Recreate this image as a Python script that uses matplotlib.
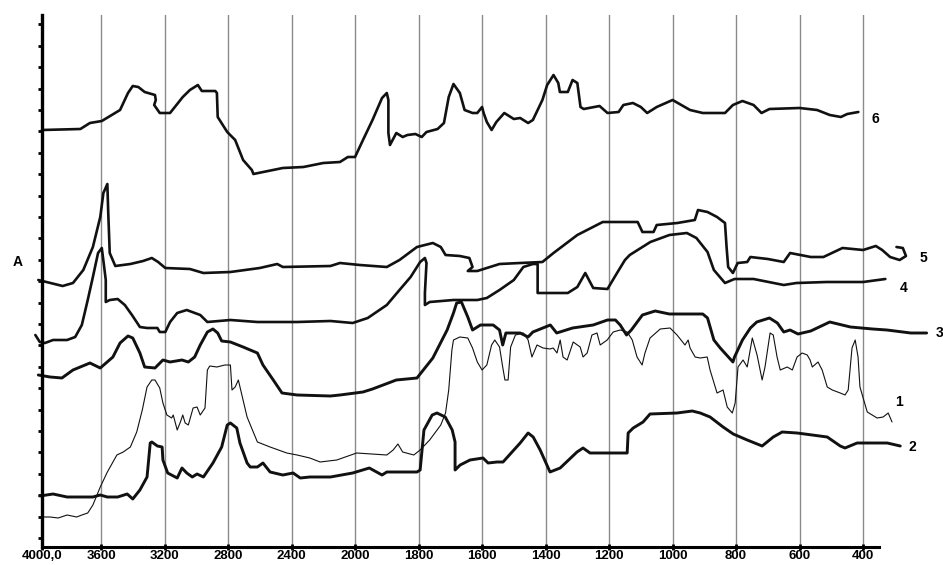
import numpy as np
import matplotlib.pyplot as plt

# IR spectra, wavenumber (cm-1) vs absorbance (arb. units, stacked)
wn6 = [4000, 3740, 3675, 3595, 3480, 3430, 3400, 3365, 3325, 3260, 3255, 3265, 3230, 3165, 3135, 3085,
       3040, 2990, 2965, 2880, 2870, 2865, 2805, 2755, 2705, 2650, 2640, 2455, 2325, 2200, 2095, 2045,
       2000, 1975, 1945, 1915, 1900, 1895, 1895, 1890, 1870, 1850, 1835, 1810, 1790, 1775, 1740, 1720,
       1705, 1690, 1670, 1655, 1630, 1615, 1600, 1595, 1585, 1570, 1555, 1530, 1500, 1480, 1455, 1440,
       1410, 1395, 1375, 1360, 1355, 1330, 1315, 1300, 1290, 1280, 1230, 1205, 1170, 1155, 1125, 1100,
       1080, 1050, 1000, 945, 905, 835, 810, 780, 745, 720, 695, 600, 545, 505, 470, 450, 415]
a6 = [4.08, 4.09, 4.15, 4.17, 4.28, 4.45, 4.52, 4.51, 4.46, 4.43, 4.38, 4.33, 4.25, 4.25, 4.31, 4.41,
      4.48, 4.53, 4.47, 4.47, 4.45, 4.21, 4.06, 3.98, 3.78, 3.68, 3.64, 3.70, 3.71, 3.75, 3.76, 3.81,
      3.81, 3.98, 4.18, 4.40, 4.45, 4.38, 4.05, 3.93, 4.05, 4.01, 4.03, 4.04, 4.01, 4.06, 4.09, 4.15,
      4.41, 4.54, 4.45, 4.28, 4.25, 4.25, 4.31, 4.25, 4.16, 4.08, 4.16, 4.25, 4.19, 4.20, 4.15, 4.18,
      4.38, 4.53, 4.63, 4.55, 4.46, 4.46, 4.58, 4.55, 4.31, 4.29, 4.32, 4.25, 4.26, 4.33, 4.35, 4.31,
      4.25, 4.31, 4.38, 4.28, 4.25, 4.25, 4.33, 4.37, 4.33, 4.25, 4.29, 4.30, 4.28, 4.23, 4.21, 4.24, 4.26]

wn5 = [4025, 3860, 3790, 3720, 3655, 3605, 3585, 3560, 3555, 3545, 3510, 3415, 3335, 3280, 3240, 3195,
       3040, 2955, 2785, 2600, 2490, 2455, 2155, 2095, 1985, 1900, 1860, 1805, 1755, 1730, 1715, 1670,
       1640, 1630, 1645, 1615, 1545, 1480, 1410, 1375, 1300, 1220, 1110, 1095, 1060, 1050, 985, 930,
       920, 890, 860, 835, 830, 825, 810, 795, 765, 755, 700, 650, 630, 565, 525, 465, 400, 360,
       340, 315, 285, 265, 275, 295]
a5 = [2.58, 2.52, 2.55, 2.68, 2.91, 3.21, 3.45, 3.54, 3.28, 2.85, 2.72, 2.74, 2.77, 2.80, 2.76, 2.70,
      2.69, 2.65, 2.66, 2.70, 2.74, 2.71, 2.72, 2.75, 2.73, 2.71, 2.78, 2.91, 2.95, 2.91, 2.83, 2.82,
      2.80, 2.71, 2.67, 2.67, 2.74, 2.75, 2.76, 2.85, 3.03, 3.16, 3.16, 3.06, 3.06, 3.13, 3.15, 3.18,
      3.28, 3.26, 3.21, 3.15, 2.91, 2.71, 2.65, 2.75, 2.76, 2.81, 2.79, 2.76, 2.85, 2.81, 2.81, 2.90,
      2.88, 2.92, 2.88, 2.81, 2.78, 2.82, 2.90, 2.91]

wn4 = [4045, 4015, 3980, 3925, 3830, 3775, 3730, 3690, 3655, 3620, 3595, 3580, 3570, 3570, 3545, 3495,
       3450, 3405, 3355, 3310, 3245, 3230, 3195, 3165, 3120, 3060, 2975, 2930, 2785, 2615, 2365, 2155,
       2015, 1960, 1900, 1860, 1825, 1795, 1780, 1775, 1780, 1780, 1765, 1690, 1615, 1585, 1545, 1500,
       1470, 1440, 1425, 1425, 1330, 1300, 1275, 1250, 1205, 1175, 1150, 1135, 1070, 1010, 955, 925,
       890, 870, 835, 805, 745, 650, 610, 515, 400, 330]
a4 = [2.03, 1.96, 1.95, 1.98, 1.98, 2.01, 2.13, 2.38, 2.61, 2.85, 2.90, 2.71, 2.58, 2.36, 2.38, 2.39,
      2.33, 2.23, 2.11, 2.10, 2.10, 2.06, 2.06, 2.16, 2.25, 2.28, 2.23, 2.16, 2.18, 2.16, 2.16, 2.17,
      2.15, 2.20, 2.33, 2.48, 2.61, 2.76, 2.80, 2.75, 2.45, 2.33, 2.36, 2.38, 2.38, 2.40, 2.48, 2.58,
      2.71, 2.74, 2.74, 2.45, 2.45, 2.51, 2.65, 2.50, 2.49, 2.65, 2.78, 2.83, 2.96, 3.03, 3.05, 3.00,
      2.86, 2.68, 2.55, 2.59, 2.59, 2.53, 2.55, 2.56, 2.56, 2.59]

wn3 = [4025, 3945, 3865, 3790, 3675, 3605, 3525, 3480, 3430, 3400, 3355, 3325, 3260, 3210, 3165, 3090,
       3050, 3010, 2975, 2930, 2895, 2865, 2840, 2785, 2705, 2615, 2580, 2515, 2460, 2365, 2155, 2095,
       1975, 1945, 1870, 1805, 1755, 1710, 1690, 1680, 1665, 1645, 1630, 1605, 1565, 1545, 1535, 1525,
       1480, 1455, 1440, 1385, 1365, 1315, 1250, 1205, 1180, 1165, 1145, 1130, 1095, 1055, 1010, 905,
       890, 870, 850, 810, 805, 780, 755, 735, 695, 670, 650, 630, 605, 565, 505, 440, 370, 325, 250, 200]
a3 = [1.63, 1.61, 1.60, 1.68, 1.75, 1.70, 1.81, 1.95, 2.02, 2.00, 1.85, 1.71, 1.70, 1.78, 1.76, 1.78,
      1.76, 1.81, 1.93, 2.06, 2.09, 2.05, 1.97, 1.96, 1.91, 1.85, 1.73, 1.58, 1.45, 1.43, 1.42, 1.43,
      1.46, 1.49, 1.58, 1.60, 1.80, 2.08, 2.25, 2.35, 2.36, 2.21, 2.08, 2.13, 2.13, 2.08, 1.93, 2.05,
      2.05, 2.01, 2.06, 2.13, 2.05, 2.10, 2.13, 2.18, 2.18, 2.13, 2.03, 2.08, 2.23, 2.27, 2.24, 2.24,
      2.20, 1.98, 1.90, 1.76, 1.81, 1.98, 2.10, 2.16, 2.20, 2.15, 2.06, 2.08, 2.04, 2.07, 2.16, 2.11,
      2.09, 2.08, 2.05, 2.05]

wn1 = [4015, 3945, 3890, 3830, 3765, 3730, 3690, 3655, 3605, 3560, 3500, 3460, 3415, 3375, 3340, 3310,
       3280, 3260, 3230, 3210, 3185, 3155, 3145, 3120, 3100, 3085, 3070, 3050, 3020, 2995, 2975, 2945,
       2930, 2915, 2870, 2820, 2785, 2775, 2755, 2735, 2720, 2680, 2615, 2535, 2430, 2365, 2285, 2220,
       2115, 1995, 1900, 1880, 1865, 1850, 1815, 1795, 1765, 1730, 1715, 1705, 1695, 1690, 1670, 1645,
       1630, 1615, 1600, 1585, 1570, 1560, 1545, 1535, 1528, 1518, 1510, 1495, 1470, 1455, 1443, 1427,
       1408, 1386, 1376, 1364, 1354, 1345, 1332, 1313, 1291, 1282, 1269, 1254, 1238, 1228, 1206, 1187,
       1165, 1143, 1127, 1112, 1096, 1087, 1071, 1039, 1008, 986, 961, 951, 945, 929, 913, 891,
       882, 860, 841, 828, 812, 803, 794, 778, 765, 749, 734, 718, 709, 693, 683, 671,
       661, 639, 623, 608, 592, 576, 567, 560, 542, 529, 513, 497, 472, 457, 447, 435,
       425, 416, 410, 387, 356, 337, 321, 309]
a1 = [0.21, 0.21, 0.20, 0.23, 0.21, 0.23, 0.25, 0.33, 0.51, 0.66, 0.83, 0.86, 0.91, 1.06, 1.28, 1.51,
      1.58, 1.58, 1.50, 1.35, 1.23, 1.20, 1.23, 1.08, 1.16, 1.23, 1.15, 1.13, 1.30, 1.31, 1.23, 1.30,
      1.68, 1.72, 1.71, 1.73, 1.73, 1.48, 1.51, 1.58, 1.48, 1.21, 0.96, 0.91, 0.85, 0.83, 0.80, 0.76,
      0.78, 0.85, 0.83, 0.88, 0.94, 0.86, 0.83, 0.88, 0.98, 1.13, 1.25, 1.48, 1.88, 1.98, 2.01, 2.00,
      1.90, 1.76, 1.68, 1.73, 1.93, 1.98, 1.91, 1.71, 1.58, 1.58, 1.91, 2.03, 2.05, 1.98, 1.81, 1.93,
      1.90, 1.89, 1.90, 1.85, 1.98, 1.81, 1.78, 1.96, 1.91, 1.81, 1.85, 2.03, 2.05, 1.93, 1.98, 2.06,
      2.08, 2.06, 1.98, 1.81, 1.73, 1.85, 2.00, 2.09, 2.10, 2.03, 1.93, 1.98, 1.90, 1.81, 1.80, 1.81,
      1.68, 1.45, 1.48, 1.31, 1.25, 1.35, 1.71, 1.78, 1.71, 2.00, 1.83, 1.58, 1.71, 2.05, 2.03, 1.81,
      1.68, 1.71, 1.68, 1.81, 1.85, 1.83, 1.78, 1.71, 1.76, 1.68, 1.51, 1.48, 1.45, 1.43, 1.48, 1.90,
      1.98, 1.81, 1.51, 1.26, 1.20, 1.21, 1.25, 1.16]

wn2 = [4015, 3925, 3830, 3655, 3605, 3560, 3495, 3435, 3400, 3355, 3310, 3290, 3280, 3245, 3215, 3210,
       3180, 3120, 3090, 3060, 3025, 2995, 2955, 2895, 2840, 2805, 2785, 2745, 2725, 2680, 2660, 2615,
       2580, 2535, 2455, 2390, 2345, 2285, 2155, 2015, 1955, 1915, 1900, 1805, 1795, 1783, 1757, 1742,
       1716, 1694, 1685, 1685, 1669, 1638, 1597, 1581, 1553, 1534, 1480, 1455, 1439, 1417, 1386, 1354,
       1301, 1282, 1260, 1143, 1140, 1124, 1093, 1071, 986, 938, 913, 882, 841, 809, 765, 718,
       683, 655, 608, 513, 472, 457, 419, 324, 283]
a2 = [0.42, 0.44, 0.41, 0.41, 0.43, 0.41, 0.41, 0.44, 0.39, 0.48, 0.61, 0.95, 0.96, 0.92, 0.91, 0.78,
      0.65, 0.60, 0.70, 0.65, 0.61, 0.64, 0.61, 0.75, 0.91, 1.13, 1.15, 1.10, 0.95, 0.75, 0.71, 0.71,
      0.75, 0.66, 0.63, 0.65, 0.60, 0.61, 0.61, 0.65, 0.70, 0.63, 0.66, 0.66, 0.68, 1.08, 1.23, 1.25,
      1.21, 1.08, 0.96, 0.68, 0.73, 0.78, 0.80, 0.75, 0.76, 0.76, 0.95, 1.05, 1.01, 0.88, 0.66, 0.70,
      0.86, 0.90, 0.85, 0.85, 1.05, 1.10, 1.16, 1.24, 1.25, 1.27, 1.25, 1.21, 1.11, 1.04, 0.98, 0.92,
      1.01, 1.06, 1.05, 1.01, 0.92, 0.90, 0.95, 0.95, 0.92]

xticks = [4000, 3600, 3200, 2800, 2400, 2000, 1800, 1600, 1400, 1200, 1000, 800, 600, 400]
xlabels = ['4000,0', '3600', '3200', '2800', '2400', '2000', '1800', '1600', '1400', '1200',
           '1000', '800', '600', '400']


# spectrometer axis: 400 cm-1 per division above 2000, 200 cm-1 per division below
def fwd(w):
    return np.interp(w, [0, 2000, 3600, 4400], [-15, -5, -1, 0.858])


def inv(p):
    return np.interp(p, [-15, -5, -1, 0.858], [0, 2000, 3600, 4400])


fig = plt.figure(figsize=(9.43, 5.65), dpi=100)
ax = fig.add_axes([42/943, 18/565, 837/943, 532/565])
ax.set_xscale('function', functions=(fwd, inv))

style = dict(color='#111111', clip_on=False, solid_joinstyle='round', solid_capstyle='round')
ax.plot(wn6, a6, lw=1.9, **style)
ax.plot(wn5, a5, lw=1.9, **style)
ax.plot(wn4, a4, lw=1.9, **style)
ax.plot(wn3, a3, lw=2.1, **style)
ax.plot(wn1, a1, lw=0.8, **style)
ax.plot(wn2, a2, lw=2.1, **style)

lab = dict(fontsize=10, fontweight='bold', ha='center', va='center', family='Liberation Sans')
ax.text(362, 4.19, '6', clip_on=False, **lab)
ax.text(211, 2.80, '5', clip_on=False, **lab)
ax.text(274, 2.50, '4', clip_on=False, **lab)
ax.text(160, 2.05, '3', clip_on=False, **lab)
ax.text(286, 1.36, '1', clip_on=False, **lab)
ax.text(245, 0.91, '2', clip_on=False, **lab)

ax.set_xlim(4000, 350)
ax.set_ylim(-0.09, 5.23)
ax.set_xticks(xticks)
ax.set_xticklabels(xlabels, fontsize=9.5, fontweight='bold', family='Liberation Sans')
ax.set_yticks(np.arange(25)*0.214)
ax.set_yticklabels([])
ax.grid(axis='x', color='#8a8a8a', lw=1.0)

for s in ['top', 'right']:
    ax.spines[s].set_visible(False)
ax.spines['left'].set_linewidth(2.4)
ax.spines['bottom'].set_linewidth(2.2)
ax.tick_params(axis='x', direction='inout', length=4, width=2, pad=0.5)
ax.tick_params(axis='y', direction='out', length=3, width=2)

ax.text(-0.029, 0.536, 'A', transform=ax.transAxes, fontsize=10, fontweight='bold',
        ha='center', va='center', family='Liberation Sans')

plt.savefig('out.png', dpi=100)
